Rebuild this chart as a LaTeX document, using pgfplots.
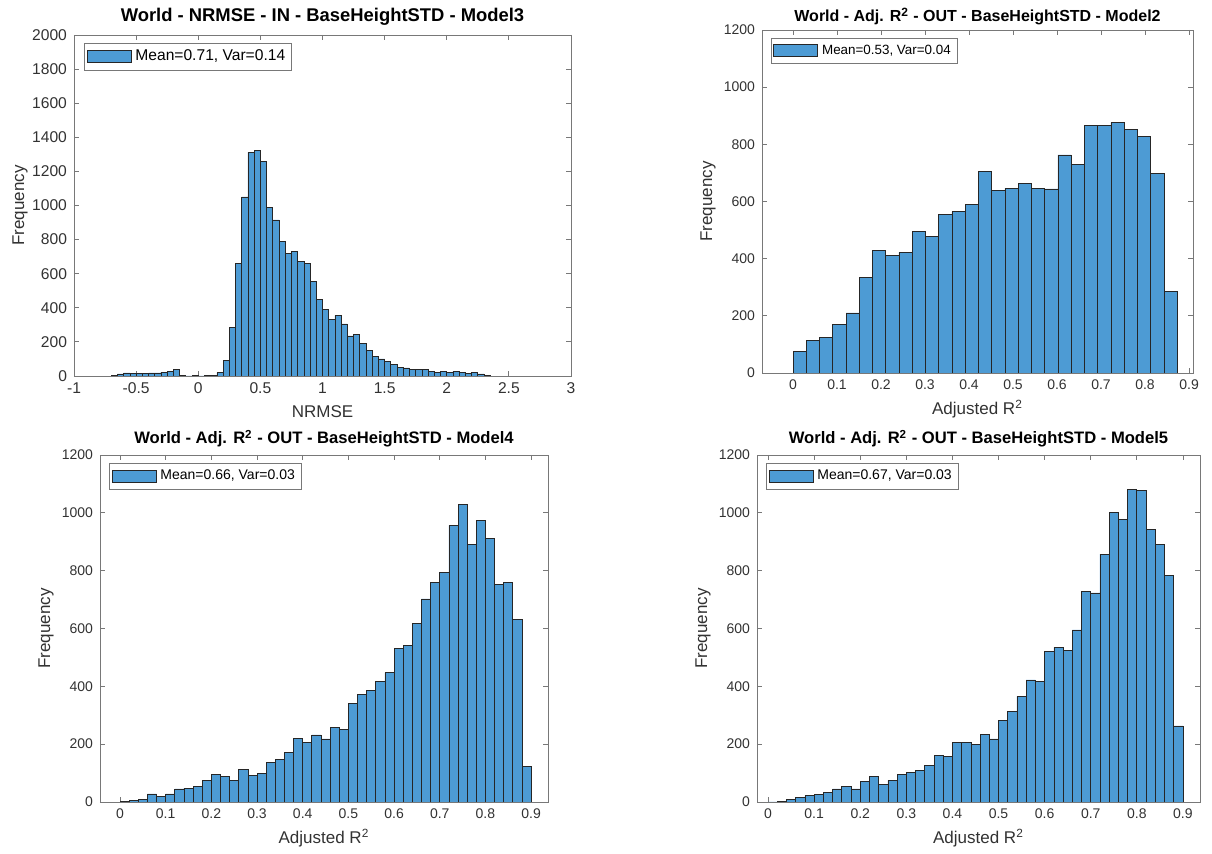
\documentclass[border=0pt]{standalone}
\usepackage{fontspec}
\setmainfont{Liberation Sans}
\usepackage{pgfplots}
\pgfplotsset{compat=1.18}

\definecolor{histblue}{RGB}{77,155,212}
\definecolor{axgray}{RGB}{120,120,120}
\definecolor{labgray}{RGB}{50,50,50}

\pgfplotsset{
  hist/.style={
    scale only axis,
    axis line style={axgray, line width=0.4pt},
    tick style={axgray, line width=0.4pt},
    tick align=inside,
    major tick length=2.5pt,
    minor tick num=0,
    ymin=0,
    tick label style={font=\fontsize{7}{8}\selectfont, text=labgray},
    /pgf/number format/assume math mode=true,
    /pgf/number format/1000 sep={},
    title style={font=\bfseries\fontsize{8}{9}\selectfont,
      at={(axis description cs:0.5,1)}, anchor=base},
    label style={font=\fontsize{8.5}{10}\selectfont, text=labgray},
    xlabel style={at={(axis description cs:0.5,0)}, anchor=center, yshift=-18pt},
    ylabel style={at={(axis description cs:0,0.5)}, anchor=center, yshift=27pt},
    legend cell align=left,
    legend style={draw=axgray, line width=0.4pt, fill=white,
      font=\fontsize{7.5}{8.5}\selectfont, inner sep=1.2pt,
      at={(0.02,0.977)}, anchor=north west},
  },
  histbar/.style={
    ybar interval, fill=histblue, draw=black!85, line width=0.35pt,
    legend image code/.code={\draw[##1] (0pt,-3pt) rectangle (22pt,3pt);},
  },
}

\begin{document}
\begin{tikzpicture}
\useasboundingbox (0,0) rectangle (606pt,427pt);

% top left: NRMSE, Model3
\begin{axis}[hist,
  at={(37pt,239pt)}, anchor=south west,
  width=248.5pt, height=170.5pt,
  xmin=-1, xmax=3, ymax=2000,
  xtick={-1,-0.5,0,0.5,1,1.5,2,2.5,3},
  ytick={0,200,...,2000},
  title={World - NRMSE - IN - BaseHeightSTD - Model3},
  title style={yshift=0.5pt, font=\bfseries\fontsize{9.2}{10}\selectfont},
  tick label style={font=\fontsize{7.8}{9}\selectfont},
  legend style={font=\fontsize{7.8}{9}\selectfont},
  xlabel={NRMSE}, ylabel={Frequency},
]
\addplot[histbar] coordinates {
(-0.70,3) (-0.65,12) (-0.60,18) (-0.55,14) (-0.50,16) (-0.45,14) (-0.40,18)
(-0.35,18) (-0.30,22) (-0.25,28) (-0.20,38) (-0.15,5) (-0.10,0) (-0.05,5)
(0.00,0) (0.05,2) (0.10,5) (0.15,20) (0.20,92) (0.25,285) (0.30,660)
(0.35,1050) (0.40,1312) (0.45,1322) (0.50,1260) (0.55,990) (0.60,915)
(0.65,790) (0.70,720) (0.75,730) (0.80,670) (0.85,660) (0.90,555)
(0.95,450) (1.00,388) (1.05,332) (1.10,355) (1.15,305) (1.20,235)
(1.25,245) (1.30,190) (1.35,152) (1.40,113) (1.45,100) (1.50,86)
(1.55,68) (1.60,49) (1.65,47) (1.70,37) (1.75,36) (1.80,36) (1.85,28)
(1.90,22) (1.95,26) (2.00,22) (2.05,28) (2.10,20) (2.15,16) (2.20,20)
(2.25,12) (2.30,5) (2.35,5)
};
\addlegendentry{Mean=0.71, Var=0.14}
\end{axis}

% top right: Adj. R2, Model2
\begin{axis}[hist,
  at={(381pt,240.5pt)}, anchor=south west,
  width=215.5pt, height=171.5pt,
  xmin=-0.0705, xmax=0.909, ymax=1200,
  xtick={0,0.1,0.2,0.3,0.4,0.5,0.6,0.7,0.8,0.9},
  ytick={0,200,...,1200},
  title={World - Adj. R\textsuperscript{2} - OUT - BaseHeightSTD - Model2},
  title style={yshift=-2pt},
  legend style={font=\fontsize{6.7}{8}\selectfont},
  xlabel={Adjusted R\textsuperscript{2}}, ylabel={Frequency},
]
\addplot[histbar] coordinates {
(0.0000,75) (0.0301,114) (0.0602,125) (0.0903,170) (0.1204,210)
(0.1505,333) (0.1806,429) (0.2107,411) (0.2408,422) (0.2709,494)
(0.3010,477) (0.3311,555) (0.3612,564) (0.3913,590) (0.4214,704)
(0.4515,640) (0.4816,646) (0.5117,663) (0.5418,645) (0.5719,644)
(0.6020,763) (0.6321,729) (0.6622,867) (0.6923,865) (0.7224,877)
(0.7525,853) (0.7826,828) (0.8127,697) (0.8428,284) (0.8729,284)
};
\addlegendentry{Mean=0.53, Var=0.04}
\end{axis}

% bottom left: Adj. R2, Model4
\begin{axis}[hist,
  at={(50pt,26pt)}, anchor=south west,
  width=224pt, height=173.5pt,
  xmin=-0.0438, xmax=0.937, ymax=1200,
  xtick={0,0.1,0.2,0.3,0.4,0.5,0.6,0.7,0.8,0.9},
  ytick={0,200,...,1200},
  title={World - Adj. R\textsuperscript{2} - OUT - BaseHeightSTD - Model4},
  title style={yshift=-0.5pt, font=\bfseries\fontsize{8.3}{9}\selectfont},
  legend style={font=\fontsize{7}{8}\selectfont},
  xlabel={Adjusted R\textsuperscript{2}}, ylabel={Frequency},
]
\addplot[histbar] coordinates {
(0.00,2) (0.02,5) (0.04,10) (0.06,28) (0.08,18) (0.10,28) (0.12,45)
(0.14,48) (0.16,53) (0.18,75) (0.20,95) (0.22,88) (0.24,75) (0.26,112)
(0.28,92) (0.30,100) (0.32,138) (0.34,148) (0.36,170) (0.38,220)
(0.40,205) (0.42,232) (0.44,218) (0.46,258) (0.48,250) (0.50,340)
(0.52,373) (0.54,385) (0.56,418) (0.58,447) (0.60,530) (0.62,540)
(0.64,618) (0.66,702) (0.68,758) (0.70,795) (0.72,957) (0.74,1028)
(0.76,890) (0.78,973) (0.80,912) (0.82,752) (0.84,758) (0.86,630)
(0.88,122) (0.90,122)
};
\addlegendentry{Mean=0.66, Var=0.03}
\end{axis}

% bottom right: Adj. R2, Model5
\begin{axis}[hist,
  at={(378.5pt,26pt)}, anchor=south west,
  width=221.5pt, height=173.5pt,
  xmin=-0.024, xmax=0.937, ymax=1200,
  xtick={0,0.1,0.2,0.3,0.4,0.5,0.6,0.7,0.8,0.9},
  ytick={0,200,...,1200},
  title={World - Adj. R\textsuperscript{2} - OUT - BaseHeightSTD - Model5},
  title style={yshift=-0.5pt, font=\bfseries\fontsize{8.3}{9}\selectfont},
  legend style={font=\fontsize{7}{8}\selectfont},
  xlabel={Adjusted R\textsuperscript{2}}, ylabel={Frequency},
]
\addplot[histbar] coordinates {
(0.00,0) (0.02,2) (0.04,8) (0.06,15) (0.08,22) (0.10,27) (0.12,33)
(0.14,45) (0.16,53) (0.18,45) (0.20,72) (0.22,88) (0.24,62) (0.26,75)
(0.28,95) (0.30,103) (0.32,110) (0.34,127) (0.36,162) (0.38,158)
(0.40,205) (0.42,205) (0.44,200) (0.46,235) (0.48,218) (0.50,282)
(0.52,312) (0.54,365) (0.56,422) (0.58,418) (0.60,520) (0.62,535)
(0.64,525) (0.66,595) (0.68,727) (0.70,723) (0.72,857) (0.74,1000)
(0.76,977) (0.78,1080) (0.80,1077) (0.82,943) (0.84,890) (0.86,783)
(0.88,263) (0.90,263)
};
\addlegendentry{Mean=0.67, Var=0.03}
\end{axis}
\end{tikzpicture}
\end{document}
